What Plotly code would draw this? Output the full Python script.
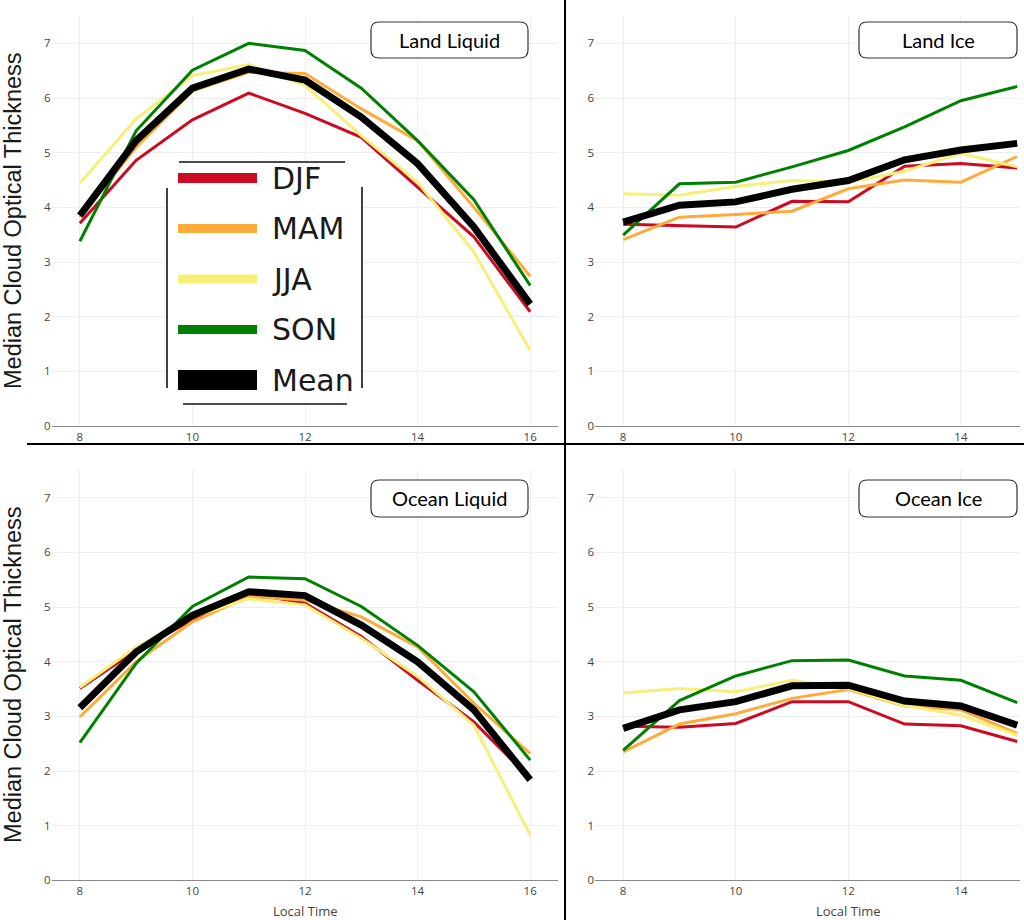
import plotly.graph_objects as go

# Local time (hours) for each panel
hours_full = [8, 9, 10, 11, 12, 13, 14, 15, 16]
hours_cut = [8, 9, 10, 11, 12, 13, 14, 15]

seasons = ["DJF", "MAM", "JJA", "SON", "Mean"]
colors = ["#cc0a22", "#ffab3b", "#f7ef78", "#008000", "#000000"]
widths = [3, 3, 3, 3, 7]
swatch_widths = [10, 9, 9, 9, 20]

# Median cloud optical thickness
land_liquid = {
    "DJF":  [3.71, 4.86, 5.60, 6.09, 5.72, 5.28, 4.37, 3.46, 2.09],
    "MAM":  [3.82, 5.10, 6.13, 6.47, 6.45, 5.80, 5.22, 4.00, 2.74],
    "JJA":  [4.44, 5.62, 6.41, 6.61, 6.23, 5.31, 4.46, 3.18, 1.38],
    "SON":  [3.38, 5.40, 6.51, 7.00, 6.87, 6.18, 5.22, 4.14, 2.57],
    "Mean": [3.85, 5.22, 6.18, 6.53, 6.33, 5.65, 4.80, 3.64, 2.23],
}
land_ice = {
    "DJF":  [3.69, 3.66, 3.64, 4.11, 4.10, 4.75, 4.80, 4.72],
    "MAM":  [3.41, 3.82, 3.87, 3.93, 4.34, 4.50, 4.46, 4.93],
    "JJA":  [4.25, 4.22, 4.38, 4.49, 4.46, 4.66, 4.99, 4.74],
    "SON":  [3.49, 4.43, 4.46, 4.74, 5.04, 5.47, 5.95, 6.21],
    "Mean": [3.73, 4.04, 4.10, 4.33, 4.49, 4.87, 5.05, 5.17],
}
ocean_liquid = {
    "DJF":  [3.51, 4.21, 4.76, 5.25, 5.07, 4.46, 3.66, 2.90, 1.87],
    "MAM":  [2.99, 4.00, 4.73, 5.19, 5.13, 4.82, 4.27, 3.24, 2.32],
    "JJA":  [3.53, 4.27, 4.82, 5.15, 5.04, 4.43, 3.73, 2.84, 0.83],
    "SON":  [2.52, 3.97, 5.01, 5.55, 5.52, 5.01, 4.30, 3.45, 2.20],
    "Mean": [3.16, 4.18, 4.85, 5.28, 5.21, 4.67, 4.00, 3.12, 1.84],
}
ocean_ice = {
    "DJF":  [2.82, 2.80, 2.87, 3.27, 3.27, 2.86, 2.83, 2.54],
    "MAM":  [2.35, 2.86, 3.05, 3.33, 3.49, 3.19, 3.12, 2.69],
    "JJA":  [3.43, 3.51, 3.45, 3.66, 3.51, 3.20, 3.02, 2.66],
    "SON":  [2.38, 3.29, 3.74, 4.02, 4.03, 3.74, 3.66, 3.25],
    "Mean": [2.78, 3.12, 3.27, 3.56, 3.57, 3.28, 3.19, 2.84],
}

panel_titles = ["Land Liquid", "Land Ice", "Ocean Liquid", "Ocean Ice"]
y_title = "Median Cloud Optical Thickness"
x_title = "Local Time"

W, H = 1024, 920


def px(x):
    return x / W


def py(y):
    return 1 - y / H


def rounded_box(x0, y0, x1, y1, r=8):
    # rounded rectangle path in paper coords, input in pixels
    rx, ry = r / W, r / H
    a, b, c, d = px(x0), py(y1), px(x1), py(y0)
    return (f"M{a + rx},{b} L{c - rx},{b} Q{c},{b} {c},{b + ry} "
            f"L{c},{d - ry} Q{c},{d} {c - rx},{d} L{a + rx},{d} "
            f"Q{a},{d} {a},{d - ry} L{a},{b + ry} Q{a},{b} {a + rx},{b} Z")


fig = go.Figure()

panels = [
    (land_liquid, hours_full, "x", "y"),
    (land_ice, hours_cut, "x2", "y2"),
    (ocean_liquid, hours_full, "x3", "y3"),
    (ocean_ice, hours_cut, "x4", "y4"),
]
for data, hrs, xa, ya in panels:
    for s, c, w in zip(seasons, colors, widths):
        fig.add_trace(go.Scatter(x=hrs, y=data[s], mode="lines", name=s,
                                 line=dict(color=c, width=w),
                                 xaxis=xa, yaxis=ya, showlegend=False))

# axis domains (pixel positions from the reference)
left_dom = [px(51.7), px(558.3)]
right_dom = [px(595), px(1020)]
top_dom = [py(426), py(16)]
bot_dom = [py(880.4), py(470.4)]

xstyle = dict(showgrid=True, gridcolor="#eeeeee", dtick=2, tick0=8,
              showline=True, linecolor="#8a8a8a", linewidth=1.3,
              zeroline=False, ticks="", automargin=False,
              tickfont=dict(family="Open Sans", size=11.5, color="#444"))
ystyle = dict(showgrid=True, gridcolor="#eeeeee", dtick=1, range=[0, 7.5],
              showline=False, zeroline=False, ticks="", automargin=False,
              tickfont=dict(family="Open Sans", size=11.5, color="#444"))

fig.update_layout(
    width=W, height=H,
    margin=dict(l=0, r=0, t=0, b=0),
    paper_bgcolor="white", plot_bgcolor="white",
    showlegend=False,
    xaxis=dict(domain=left_dom, range=[7.5, 16.5], anchor="y", **xstyle),
    yaxis=dict(domain=top_dom, anchor="x", **ystyle),
    xaxis2=dict(domain=right_dom, range=[7.5, 15.05], anchor="y2", **xstyle),
    yaxis2=dict(domain=top_dom, anchor="x2", **ystyle),
    xaxis3=dict(domain=left_dom, range=[7.5, 16.5], anchor="y3", **xstyle),
    yaxis3=dict(domain=bot_dom, anchor="x3", **ystyle),
    xaxis4=dict(domain=right_dom, range=[7.5, 15.05], anchor="y4", **xstyle),
    yaxis4=dict(domain=bot_dom, anchor="x4", **ystyle),
)

shapes = []
annotations = []

# panel dividers
shapes.append(dict(type="line", xref="paper", yref="paper",
                   x0=px(565), x1=px(565), y0=0, y1=1,
                   line=dict(color="black", width=2)))
shapes.append(dict(type="line", xref="paper", yref="paper",
                   x0=px(27), x1=1, y0=py(444), y1=py(444),
                   line=dict(color="black", width=2)))

# panel title boxes
boxes = [(371, 22, 528, 58), (859, 22, 1017, 58),
         (371, 480, 528, 517), (859, 480, 1017, 517)]
for (x0, y0, x1, y1), t in zip(boxes, panel_titles):
    shapes.append(dict(type="path", xref="paper", yref="paper",
                       path=rounded_box(x0, y0, x1, y1),
                       fillcolor="white", line=dict(color="#333", width=1.2)))
    annotations.append(dict(text=t, xref="paper", yref="paper",
                            x=px((x0 + x1) / 2), y=py((y0 + y1) / 2),
                            showarrow=False, xanchor="center", yanchor="middle",
                            font=dict(family="Lato", size=20, color="black")))

# axis titles
for yc in [221, 675]:
    annotations.append(dict(text=y_title, xref="paper", yref="paper",
                            x=px(13), y=py(yc), textangle=-90,
                            showarrow=False, xanchor="center", yanchor="middle",
                            font=dict(family="Liberation Sans", size=23.5,
                                      color="#1a1a1a")))
for xc in [305, 848]:
    annotations.append(dict(text=x_title, xref="paper", yref="paper",
                            x=px(xc), y=py(911), showarrow=False,
                            xanchor="center", yanchor="middle",
                            font=dict(family="Open Sans", size=13,
                                      color="#444")))

# hand-drawn style legend in the first panel
shapes.append(dict(type="rect", xref="paper", yref="paper", layer="above",
                   x0=px(168), x1=px(361), y0=py(403), y1=py(163),
                   fillcolor="white", line=dict(width=0)))
frame = [(179, 162, 345, 162), (167, 188, 167, 388),
         (362, 187, 362, 388), (183, 404, 347, 404)]
for x0, y0, x1, y1 in frame:
    shapes.append(dict(type="line", xref="paper", yref="paper",
                       x0=px(x0), x1=px(x1), y0=py(y0), y1=py(y1),
                       line=dict(color="#111", width=1.6)))
for i, (s, c, sw) in enumerate(zip(seasons, colors, swatch_widths)):
    yc = 178 + i * 50.5
    shapes.append(dict(type="line", xref="paper", yref="paper",
                       x0=px(178), x1=px(257), y0=py(yc), y1=py(yc),
                       line=dict(color=c, width=sw)))
    annotations.append(dict(text=s, xref="paper", yref="paper",
                            x=px(270), y=py(yc), showarrow=False,
                            xanchor="left", yanchor="middle",
                            font=dict(family="DejaVu Sans", size=30,
                                      color="#1a1a1a")))

fig.update_layout(shapes=shapes, annotations=annotations)

# drop the default body margin so the figure fills the window, hide modebar
fig.write_html("out.html", config={"displayModeBar": False},
               post_script="document.body.style.margin = '0';")
